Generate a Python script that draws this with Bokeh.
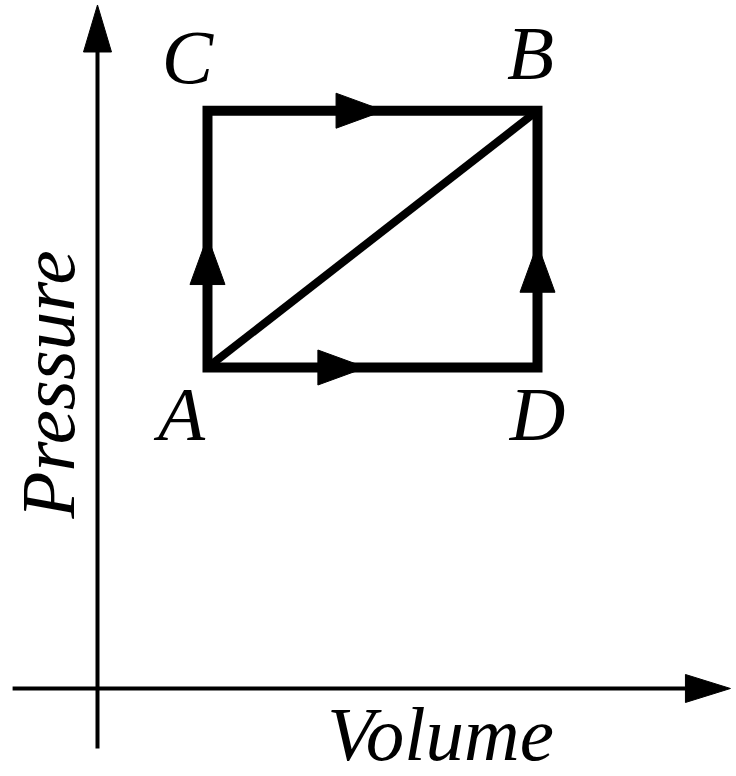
import numpy as np
from bokeh.plotting import figure
from bokeh.models import Range1d, ColumnDataSource
from bokeh.core.properties import value
from bokeh.embed import file_html
from bokeh.resources import INLINE

# ---- data ----
states = ["A", "B", "C", "D"]
volume = [1.0, 4.0, 1.0, 4.0]
pressure = [2.5, 4.5, 4.5, 2.5]

cycle_path = ["A", "C", "B", "D", "A"]
diagonal_path = ["A", "B"]
arrow_segments = [("C", "B"), ("A", "D"), ("A", "C"), ("D", "B")]

x_axis_label = "Volume"
y_axis_label = "Pressure"

# ---- layout / style ----
W, H = 736, 776
X0, X1 = -0.8818, 5.8091
Y0, Y1 = -0.6854, 5.3583
sx = W / (X1 - X0)
sy = H / (Y1 - Y0)

arrow_frac = [0.535, 0.48, 0.51, 0.48]
FS = 77
label_dx = [-26, -7, -20, 0]
label_dy = [46, -58, -54, 46]
FONT = value("Liberation Serif")

pos = {s: (v, p) for s, v, p in zip(states, volume, pressure)}


def head(p0, p1, frac, L, Wd):
    a = np.array([p0[0] * sx, p0[1] * sy])
    b = np.array([p1[0] * sx, p1[1] * sy])
    d = b - a
    u = d / np.linalg.norm(d)
    n = np.array([-u[1], u[0]])
    tip = a + frac * d
    base = tip - L * u
    pts = [tip, base + 0.5 * Wd * n, base - 0.5 * Wd * n]
    return [q[0] / sx for q in pts], [q[1] / sy for q in pts]


p = figure(width=W, height=H, output_backend="svg", toolbar_location=None,
           x_range=Range1d(X0, X1), y_range=Range1d(Y0, Y1),
           min_border=0, min_border_left=0, min_border_right=0,
           min_border_top=0, min_border_bottom=0)
p.axis.visible = False
p.grid.visible = False
p.outline_line_color = None
p.background_fill_color = "white"

# ---- coordinate axes with arrows ----
v_lo, v_hi = X0 + 0.11, X1 - 0.055
p_lo, p_hi = -0.467, Y1 - 0.035
hx_len, hx_w = 45, 28
p.line([v_lo, v_hi - hx_len / sx], [0, 0], line_color="black", line_width=4)
p.line([0, 0], [p_lo, p_hi - hx_len / sy], line_color="black", line_width=4)
hx, hy = head((v_lo, 0), (v_hi, 0), 1.0, hx_len, hx_w)
vx, vy = head((0, p_lo), (0, p_hi), 1.0, 47, hx_w)
p.patches([hx, vx], [hy, vy], fill_color="black", line_color="black", line_width=1)

# ---- process paths ----
p.line([pos[s][0] for s in cycle_path], [pos[s][1] for s in cycle_path],
       line_color="black", line_width=10, line_join="miter", line_cap="square")
p.line([pos[s][0] for s in diagonal_path], [pos[s][1] for s in diagonal_path],
       line_color="black", line_width=8)

xs, ys = [], []
for (s0, s1), f in zip(arrow_segments, arrow_frac):
    ax, ay = head(pos[s0], pos[s1], f, 48, 35)
    xs.append(ax)
    ys.append(ay)
p.patches(xs, ys, fill_color="black", line_color="black", line_width=1)

# ---- labels ----
src = ColumnDataSource(dict(x=volume, y=pressure, t=states, dx=label_dx, dy=label_dy))
p.text(x="x", y="y", text="t", x_offset="dx", y_offset="dy", source=src,
       text_font=FONT, text_font_style="italic", text_font_size=f"{FS}px",
       text_align="center", text_baseline="middle", text_color="black")

p.text(x=[3.118], y=[-0.358], text=[x_axis_label],
       text_font=FONT, text_font_style="italic", text_font_size=f"{FS}px",
       text_align="center", text_baseline="middle", text_color="black")
p.text(x=[-0.4545], y=[2.368], text=[y_axis_label],
       angle=np.pi / 2,
       text_font=FONT, text_font_style="italic", text_font_size=f"{FS}px",
       text_align="center", text_baseline="middle", text_color="black")

open("out.html", "w").write(file_html(p, INLINE))
